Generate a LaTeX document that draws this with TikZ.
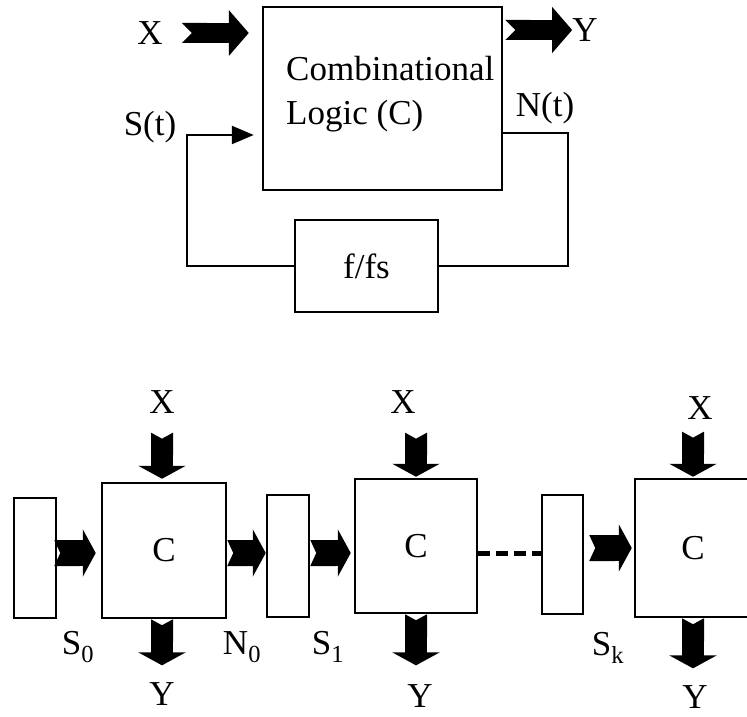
\documentclass[tikz,border=0pt]{standalone}
\usepackage{fontspec}
\setmainfont{Liberation Serif}
\usetikzlibrary{arrows.meta,positioning,calc}

\tikzset{
  blk/.style={draw,line width=2.5pt,inner sep=0pt},
  lbl/.style={inner sep=0pt},
  fat/.style={line width=22pt,{Triangle Cap[reversed,length=6pt]}-{Triangle[length=13pt,width=47pt]}},
  fatlong/.style={line width=20pt,{Triangle Cap[reversed,length=10pt]}-{Triangle[length=20pt,width=45pt]}},
  fbline/.style={line width=2.5pt},
  fbarrow/.style={fbline,-{Triangle[length=22pt,width=18pt]}},
  dashline/.style={line width=5pt,dash pattern=on 12pt off 6pt}
}

\begin{document}
\begin{tikzpicture}[x=1pt,y=-1pt,font=\fontsize{35}{44}\selectfont]
\useasboundingbox (0,0) rectangle (747,717);
% sequential circuit with feedback
\node[blk,minimum width=239pt,minimum height=183pt] (logic) at (382.5,98.5) {};
\node[lbl,align=left,anchor=north west] (logictxt) at (286,56) {Combinational\\Logic (C)};
\node[blk,minimum width=143pt,minimum height=92pt] (fs) at (366.5,266) {f/fs};
\node[lbl] (x) at (150,33) {X};
\node[lbl] (y) at (585,30) {Y};
\node[lbl] (st) at (150,127) {S(t)};
\node[lbl] (nt) at (545,108) {N(t)};
\draw[fatlong,shorten <=19pt,shorten >=13pt] (x.east) -- (x.east -| logic.west);
\draw[fatlong,shorten <=2pt] (y.west -| logic.east) -- (y.west);
\coordinate (loopl) at (187,135);
\coordinate (loopr) at (568,133);
\draw[fbarrow,shorten >=8pt] (fs.west) -| (loopl) -- (loopl -| logic.west);
\draw[fbline] (loopr -| logic.east) -- (loopr) |- (fs.east);

% unrolled in time
\coordinate (row) at (0,553);
\node[blk,minimum width=42pt,minimum height=120pt] (r0) at (35,558) {};
\node[blk,minimum width=124pt,minimum height=135pt] (c1) at (164,550.5) {C};
\node[blk,minimum width=42pt,minimum height=122pt] (r1) at (288,556) {};
\node[blk,minimum width=122pt,minimum height=134pt] (c2) at (416,546) {C};
\node[blk,minimum width=41pt,minimum height=119pt] (rk) at (562.5,554.5) {};
\node[blk,minimum width=116pt,minimum height=138pt] (c3) at (693,548) {C};
\node[lbl] (x1) at (162,402) {X};
\node[lbl] (x2) at (403,402) {X};
\node[lbl] (x3) at (700,408) {X};
\node[lbl] (y1) at (162,694) {Y};
\node[lbl] (y2) at (420,696) {Y};
\node[lbl] (y3) at (695,697) {Y};
\node[lbl] (s0) at (78,647) {S\textsubscript{0}};
\node[lbl] (n0) at (242,647) {N\textsubscript{0}};
\node[lbl] (s1) at (328,647) {S\textsubscript{1}};
\node[lbl] (sk) at (608,648) {S\textsubscript{k}};
\draw[fat,shorten <=19pt,shorten >=3pt] (x1.south) -- (x1.south |- c1.north);
\draw[fat,shorten >=17pt] (y1.north |- c1.south) -- (y1.north);
\draw[fat,shorten <=19pt,shorten >=1pt] (x2.south -| c2.north) -- (c2.north);
\draw[fat,shorten >=19pt] (c2.south) -- (c2.south |- y2.north);
\draw[fat,shorten <=12pt,shorten >=1pt] (x3.south -| c3.north) -- (c3.north);
\draw[fat,shorten >=17pt] (c3.south) -- (c3.south |- y3.north);
\draw[fat,line width=26pt,shorten <=-3pt,shorten >=5pt] (r0.east |- row) -- (c1.west |- row);
\draw[fat,line width=26pt] (c1.east |- row) -- (r1.west |- row);
\draw[fat,line width=26pt,shorten >=3pt] (r1.east |- row) -- (c2.west |- row);
\draw[dashline] (c2.east |- row) -- (rk.west |- row);
\draw[fat,line width=26pt,shorten <=5pt,shorten >=2pt] (rk.east |- c3.west) -- (c3.west);
\end{tikzpicture}
\end{document}
